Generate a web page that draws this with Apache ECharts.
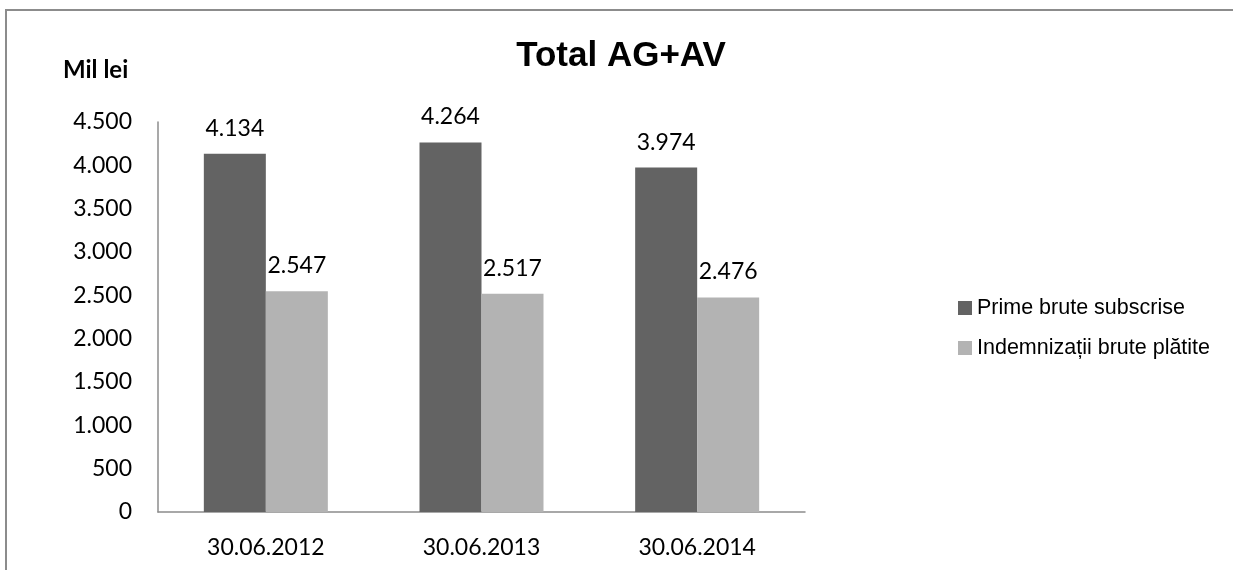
<!DOCTYPE html>
<html>
<head>
<meta charset="utf-8">
<script src="https://cdn.jsdelivr.net/npm/echarts@6/dist/echarts.min.js"></script>
<style>
  html, body { margin: 0; padding: 0; background: #fff; }
  #main { width: 1233px; height: 570px; }
</style>
</head>
<body>
<div id="main"></div>
<script>
// date categories and values (mil lei)
const categories = ['30.06.2012', '30.06.2013', '30.06.2014'];
const prime = [4134, 4264, 3974];
const indemnizatii = [2547, 2517, 2476];
const seriesNames = ['Prime brute subscrise', 'Indemnizații brute plătite'];

// 4500 -> "4.500"
function fmt(v) {
  return String(v).replace(/\B(?=(\d{3})+(?!\d))/g, '.');
}

const numFont = 'Lato, "Open Sans", sans-serif';
const arialFont = '"Liberation Sans", Arial, sans-serif';

const chart = echarts.init(document.getElementById('main'));
chart.setOption({
  animation: false,
  graphic: [{
    type: 'rect',
    shape: { x: 6, y: 10, width: 1300, height: 600 },
    style: { fill: 'none', stroke: '#8c8c8c', lineWidth: 2 },
    silent: true
  }, {
    type: 'text',
    left: 63, top: 58,
    style: { text: 'Mil lei', font: 'bold 24px ' + numFont, fill: '#000' }
  }],
  title: {
    text: 'Total AG+AV',
    left: 616, top: 34,
    textAlign: 'center',
    textStyle: { fontFamily: arialFont, fontSize: 35, fontWeight: 'bold', color: '#000' }
  },
  legend: {
    orient: 'vertical',
    left: 953, top: 292,
    itemWidth: 14, itemHeight: 14,
    itemGap: 18,
    icon: 'rect',
    textStyle: { fontFamily: arialFont, fontSize: 21.5, color: '#000' },
    data: seriesNames
  },
  grid: { left: 158, right: 428, top: 122, bottom: 58 },
  xAxis: {
    type: 'category',
    data: categories,
    axisLine: { lineStyle: { color: '#8c8c8c', width: 1.5 } },
    axisTick: { show: false },
    axisLabel: { color: '#000', fontSize: 23, fontFamily: numFont, margin: 24 }
  },
  yAxis: {
    type: 'value',
    min: 0, max: 4500, interval: 500,
    axisLine: { show: true, lineStyle: { color: '#8c8c8c', width: 1.5 } },
    axisTick: { show: false },
    splitLine: { show: false },
    axisLabel: { color: '#000', fontSize: 23, fontFamily: numFont, margin: 26, formatter: fmt }
  },
  series: [{
    name: seriesNames[0],
    type: 'bar',
    data: prime,
    barWidth: 62,
    barGap: '0%',
    itemStyle: { color: '#636363' },
    label: { show: true, position: 'top', distance: 14, color: '#000', fontSize: 23, fontFamily: numFont, formatter: p => fmt(p.value) }
  }, {
    name: seriesNames[1],
    type: 'bar',
    data: indemnizatii,
    barWidth: 62,
    itemStyle: { color: '#b3b3b3' },
    label: { show: true, position: 'top', distance: 14, color: '#000', fontSize: 23, fontFamily: numFont, formatter: p => fmt(p.value) }
  }]
});
</script>
</body>
</html>
